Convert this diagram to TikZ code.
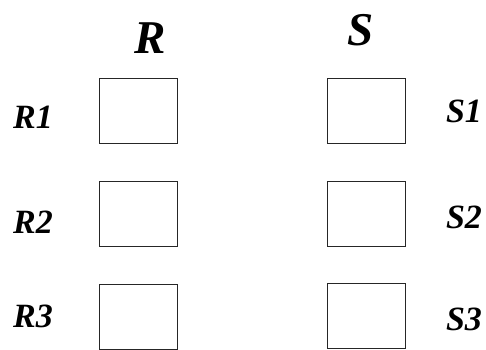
\documentclass[tikz,border=0pt]{standalone}
\usepackage{fontspec}
\setmainfont{Liberation Serif}
\begin{document}
\begin{tikzpicture}[x=1pt,y=-1pt,
  cell/.style={draw=black!85,line width=0.9pt,minimum width=78pt,minimum height=65pt,inner sep=0pt},
  head/.style={font=\fontsize{47}{47}\selectfont\bfseries\itshape,anchor=base,inner sep=0pt},
  lab/.style={font=\fontsize{34}{34}\selectfont\bfseries\itshape,anchor=base,inner sep=0pt}]
\useasboundingbox (0,0) rectangle (486,349);
\node[head] (hR) at (150,53) {R};
\node[head] (hS) at (361,45) {S};
\node[cell] (r1) at (138,111) {};
\node[cell] (r2) at (138,214) {};
\node[cell] (r3) at (138,316.5) {};
\node[cell] (s1) at (366,111) {};
\node[cell] (s2) at (366,213.5) {};
\node[cell] (s3) at (366,316) {};
\node[lab] (lr1) at (33,128) {R1};
\node[lab] (lr2) at (33,233) {R2};
\node[lab] (lr3) at (33,327) {R3};
\node[lab] (ls1) at (464,122) {S1};
\node[lab] (ls2) at (464,228) {S2};
\node[lab] (ls3) at (464,330) {S3};
\end{tikzpicture}
\end{document}
